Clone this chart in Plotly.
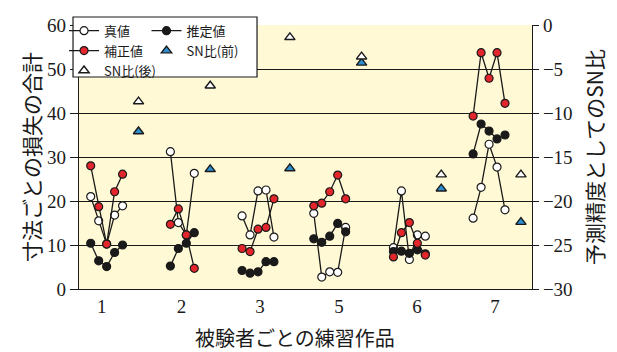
import plotly.graph_objects as go

# Practice pieces per subject (tick labels) and their tick positions on the slot axis
subjects = ["1", "2", "3", "5", "6", "7"]
subject_ticks = [1.4, 11.4, 21.25, 31.15, 40.95, 50.75]

# Slot positions of the individual measurements within each subject group
slots = [
    [0, 1, 2, 3, 4],
    [10, 11, 12, 13],
    [19, 20, 21, 22, 23],
    [28, 29, 30, 31, 32],
    [38, 39, 40, 41, 42],
    [48, 49, 50, 51, 52],
]
sn_slots = [6, 15, 25, 34, 44, 54]

# 真値 (true total loss per dimension)
true_vals = [
    [21.0, 15.5, 10.2, 16.8, 18.9],
    [31.2, 15.1, 12.3, 26.3],
    [16.6, 12.3, 22.3, 22.5, 11.8],
    [17.2, 2.7, 3.9, 3.8, 14.0],
    [9.4, 22.3, 6.7, 12.3, 12.0],
    [16.1, 23.1, 32.9, 27.7, 18.0],
]
# 推定値 (estimated)
est_vals = [
    [10.4, 6.4, 5.1, 8.3, 10.0],
    [5.2, 9.2, 10.4, 12.8],
    [4.2, 3.6, 3.9, 6.2, 6.2],
    [11.4, 10.6, 12.0, 14.9, 13.0],
    [8.5, 8.6, 8.1, 8.9, 8.0],
    [30.7, 37.5, 35.9, 34.1, 35.0],
]
# 補正値 (corrected)
corr_vals = [
    [28.0, 18.7, 10.2, 22.1, 26.1],
    [14.7, 18.2, 12.3, 4.7],
    [9.2, 8.5, 13.6, 14.0, 20.5],
    [18.9, 19.5, 22.1, 25.9, 20.5],
    [7.3, 12.8, 15.1, 10.4, 7.7],
    [39.3, 53.7, 47.9, 53.7, 42.2],
]
# SN ratio as prediction accuracy, before / after correction
sn_before = [-12.1, -16.4, -16.3, -4.3, -18.6, -22.4]
sn_after = [-8.7, -6.9, -1.4, -3.6, -17.0, -17.0]


def flatten(groups_x, groups_y):
    xs, ys = [], []
    for gx, gy in zip(groups_x, groups_y):
        xs += list(gx) + [None]
        ys += list(gy) + [None]
    return xs, ys


JP = "Noto Sans CJK JP"
SERIF = "Liberation Serif"
INK = "#1a1a1a"

fig = go.Figure()

line_style = dict(color=INK, width=1.3)


def add_series(name, values, fill, legend):
    xs, ys = flatten(slots, values)
    fig.add_trace(go.Scatter(
        x=xs, y=ys, name=name, mode="lines+markers", connectgaps=False,
        line=line_style,
        marker=dict(symbol="circle", size=8, color=fill,
                    line=dict(color=INK, width=1.2)),
        legend=legend,
    ))


add_series("真値", true_vals, "white", "legend")
add_series("推定値", est_vals, INK, "legend2")
add_series("補正値", corr_vals, "#e3262b", "legend")

fig.add_trace(go.Scatter(
    x=sn_slots, y=sn_before, name="SN比(前)", mode="markers", yaxis="y2",
    marker=dict(symbol="triangle-up", size=9, color="#2d8fd0",
                line=dict(color=INK, width=1.4)),
    legend="legend2",
))
fig.add_trace(go.Scatter(
    x=sn_slots, y=sn_after, name="SN比(後)", mode="markers", yaxis="y2",
    marker=dict(symbol="triangle-up", size=9, color="white",
                line=dict(color=INK, width=1.4)),
    legend="legend",
))

legend_common = dict(
    orientation="v", bgcolor="rgba(0,0,0,0)", borderwidth=0,
    font=dict(family=JP, size=13, color=INK),
    xanchor="left", yanchor="top", itemwidth=30, tracegroupgap=0,
)

fig.update_layout(
    width=617, height=352,
    margin=dict(l=79, r=85, t=25, b=63),
    paper_bgcolor="white",
    plot_bgcolor="#FFF9D6",
    showlegend=True,
    legend=dict(x=-0.033, y=1.035, **legend_common),
    legend2=dict(x=0.149, y=1.035, **legend_common),
    xaxis=dict(
        range=[-1.47, 55.39], automargin=False,
        tickmode="array", tickvals=subject_ticks, ticktext=subjects,
        showgrid=False, zeroline=False, ticks="",
        showline=True, linecolor=INK, linewidth=1.2,
        tickfont=dict(family=SERIF, size=19, color=INK),
    ),
    yaxis=dict(
        range=[0, 60], dtick=10, tick0=0, automargin=False,
        showgrid=True, gridcolor=INK, gridwidth=1,
        zeroline=False, ticks="outside", ticklen=8, tickcolor=INK,
        showline=True, linecolor=INK, linewidth=1.2,
        tickfont=dict(family=SERIF, size=19, color=INK),
        title=dict(text="寸法ごとの損失の合計",
                   font=dict(family=JP, size=21, color=INK), standoff=0),
    ),
    yaxis2=dict(
        overlaying="y", side="right", automargin=False,
        range=[-30, 0], dtick=5, tick0=0,
        showgrid=False, zeroline=False,
        ticks="outside", ticklen=6, tickcolor=INK,
        showline=True, linecolor=INK, linewidth=1.2,
        tickfont=dict(family=SERIF, size=19, color=INK),
        title=dict(text="予測精度としてのSN比",
                   font=dict(family=JP, size=21, color=INK), standoff=16),
    ),
    annotations=[dict(
        text="被験者ごとの練習作品", xref="paper", yref="paper",
        x=0.477, y=-0.183, xanchor="center", yanchor="middle",
        showarrow=False, font=dict(family=JP, size=20, color=INK),
    )],
    shapes=[dict(
        type="rect", xref="paper", yref="paper", layer="above",
        x0=-0.0132, x1=0.393, y0=0.803, y1=1.0303,
        line=dict(color=INK, width=1.2), fillcolor="white",
    )],
)

fig.write_html("out.html")
